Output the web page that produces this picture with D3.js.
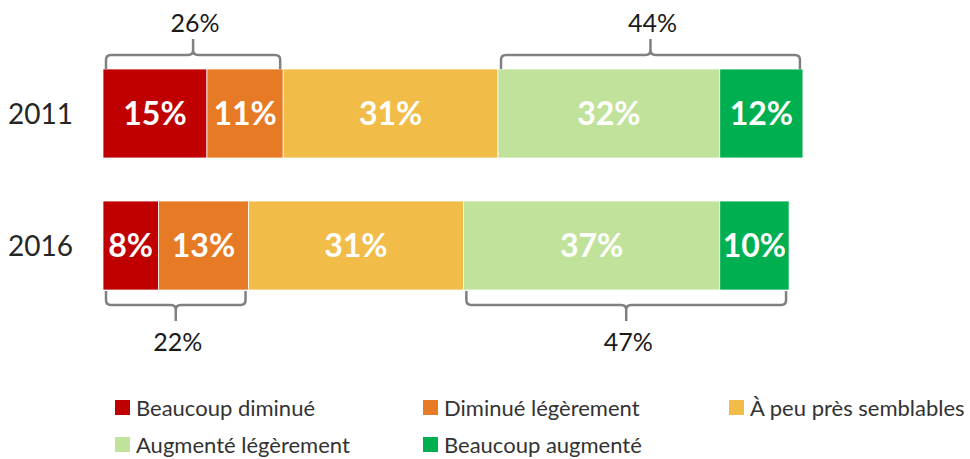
<!DOCTYPE html>
<html>
<head>
<meta charset="utf-8">
<script src="https://cdn.jsdelivr.net/npm/d3@7"></script>
<style>
  html, body { margin: 0; padding: 0; background: #fff; }
  svg { display: block; font-family: Lato, "Open Sans", sans-serif; }
</style>
</head>
<body>
<svg id="chart" width="970" height="459"></svg>
<script>
// Survey years (one stacked bar each)
const years = ["2011", "2016"];

// Answer categories, in stacking order
const categories = [
  "Beaucoup diminué",
  "Diminué légèrement",
  "À peu près semblables",
  "Augmenté légèrement",
  "Beaucoup augmenté"
];
const colors = ["#C00000", "#E77A24", "#F1BD48", "#C1E29B", "#00AF50"];

// Shares (%) per category
const values2011 = [15, 11, 31, 32, 12];
const values2016 = [8, 13, 31, 37, 10];

// Grouped totals shown with braces: [first category, last category, label, side]
const groups2011 = [[0, 1, "26%", "top"], [3, 4, "44%", "top"]];
const groups2016 = [[0, 1, "22%", "bottom"], [3, 4, "47%", "bottom"]];

const rows = [
  { year: years[0], values: values2011, groups: groups2011 },
  { year: years[1], values: values2016, groups: groups2016 }
];

const svg = d3.select("#chart");

const x = d3.scaleLinear().domain([0, 100]).range([103, 796]);
const y = d3.scaleBand().domain(years).range([69, 290]).paddingInner(0.326).paddingOuter(0);

// Stacked segments
rows.forEach(row => {
  let acc = 0;
  row.segs = row.values.map((v, i) => {
    const s = { i, v, x0: acc, x1: acc + v };
    acc += v;
    return s;
  });
});

const rowG = svg.selectAll("g.row").data(rows).join("g").attr("class", "row");

rowG.selectAll("rect").data(d => d.segs.map(s => ({ ...s, year: d.year })))
  .join("rect")
  .attr("x", d => x(d.x0))
  .attr("width", d => x(d.x1) - x(d.x0))
  .attr("y", d => y(d.year))
  .attr("height", y.bandwidth())
  .attr("fill", d => colors[d.i])
  .attr("stroke", "#fff")
  .attr("stroke-width", 0.75);

rowG.selectAll("text.val").data(d => d.segs.map(s => ({ ...s, year: d.year })))
  .join("text")
  .attr("class", "val")
  .attr("x", d => (x(d.x0) + x(d.x1)) / 2)
  .attr("y", d => y(d.year) + y.bandwidth() / 2)
  .attr("dy", "0.36em")
  .attr("text-anchor", "middle")
  .attr("fill", "#fff")
  .attr("font-weight", 700)
  .attr("font-size", 32)
  .text(d => d.v + "%");

// Year labels
svg.selectAll("text.year").data(years).join("text")
  .attr("class", "year")
  .attr("x", 73)
  .attr("y", d => y(d) + y.bandwidth() / 2)
  .attr("dy", "0.36em")
  .attr("text-anchor", "end")
  .attr("fill", "#262626")
  .attr("font-size", 28)
  .text(d => d);

// Braces over / under grouped segments
function bracePath(xa, xb, edge, dir) {
  const r = 5, lineY = edge + dir * 14, tipY = edge + dir * 30;
  const xm = (xa + xb) / 2;
  return `M${xa},${edge} L${xa},${lineY - dir * r} Q${xa},${lineY} ${xa + r},${lineY}` +
         ` L${xm - r},${lineY} Q${xm},${lineY} ${xm},${lineY + dir * r} L${xm},${tipY}` +
         ` M${xm},${lineY + dir * r} Q${xm},${lineY} ${xm + r},${lineY}` +
         ` L${xb - r},${lineY} Q${xb},${lineY} ${xb},${lineY - dir * r} L${xb},${edge}`;
}

rows.forEach(row => {
  row.groups.forEach(([a, b, label, side]) => {
    const xa = x(row.segs[a].x0) + 3;
    const xb = x(row.segs[b].x1) - 3;
    const dir = side === "top" ? -1 : 1;
    const edge = side === "top" ? y(row.year) : y(row.year) + y.bandwidth() + 1;
    svg.append("path")
      .attr("d", bracePath(xa, xb, edge, dir))
      .attr("fill", "none")
      .attr("stroke", "#808080")
      .attr("stroke-width", 2.5);
    svg.append("text")
      .attr("x", (xa + xb) / 2 + 2)
      .attr("y", side === "top" ? 32 : 351)
      .attr("text-anchor", "middle")
      .attr("fill", "#1a1a1a")
      .attr("font-size", 25)
      .text(label);
  });
});

// Legend
const legendPos = [[115, 400], [423, 400], [729, 400], [115, 437], [423, 437]];
const leg = svg.selectAll("g.leg").data(categories).join("g")
  .attr("class", "leg")
  .attr("transform", (d, i) => `translate(${legendPos[i][0]},${legendPos[i][1]})`);
leg.append("rect").attr("width", 15).attr("height", 15).attr("fill", (d, i) => colors[i]);
leg.append("text")
  .attr("x", 21)
  .attr("y", 16)
  .attr("fill", "#333")
  .attr("font-size", 22)
  .text(d => d);
</script>
</body>
</html>
